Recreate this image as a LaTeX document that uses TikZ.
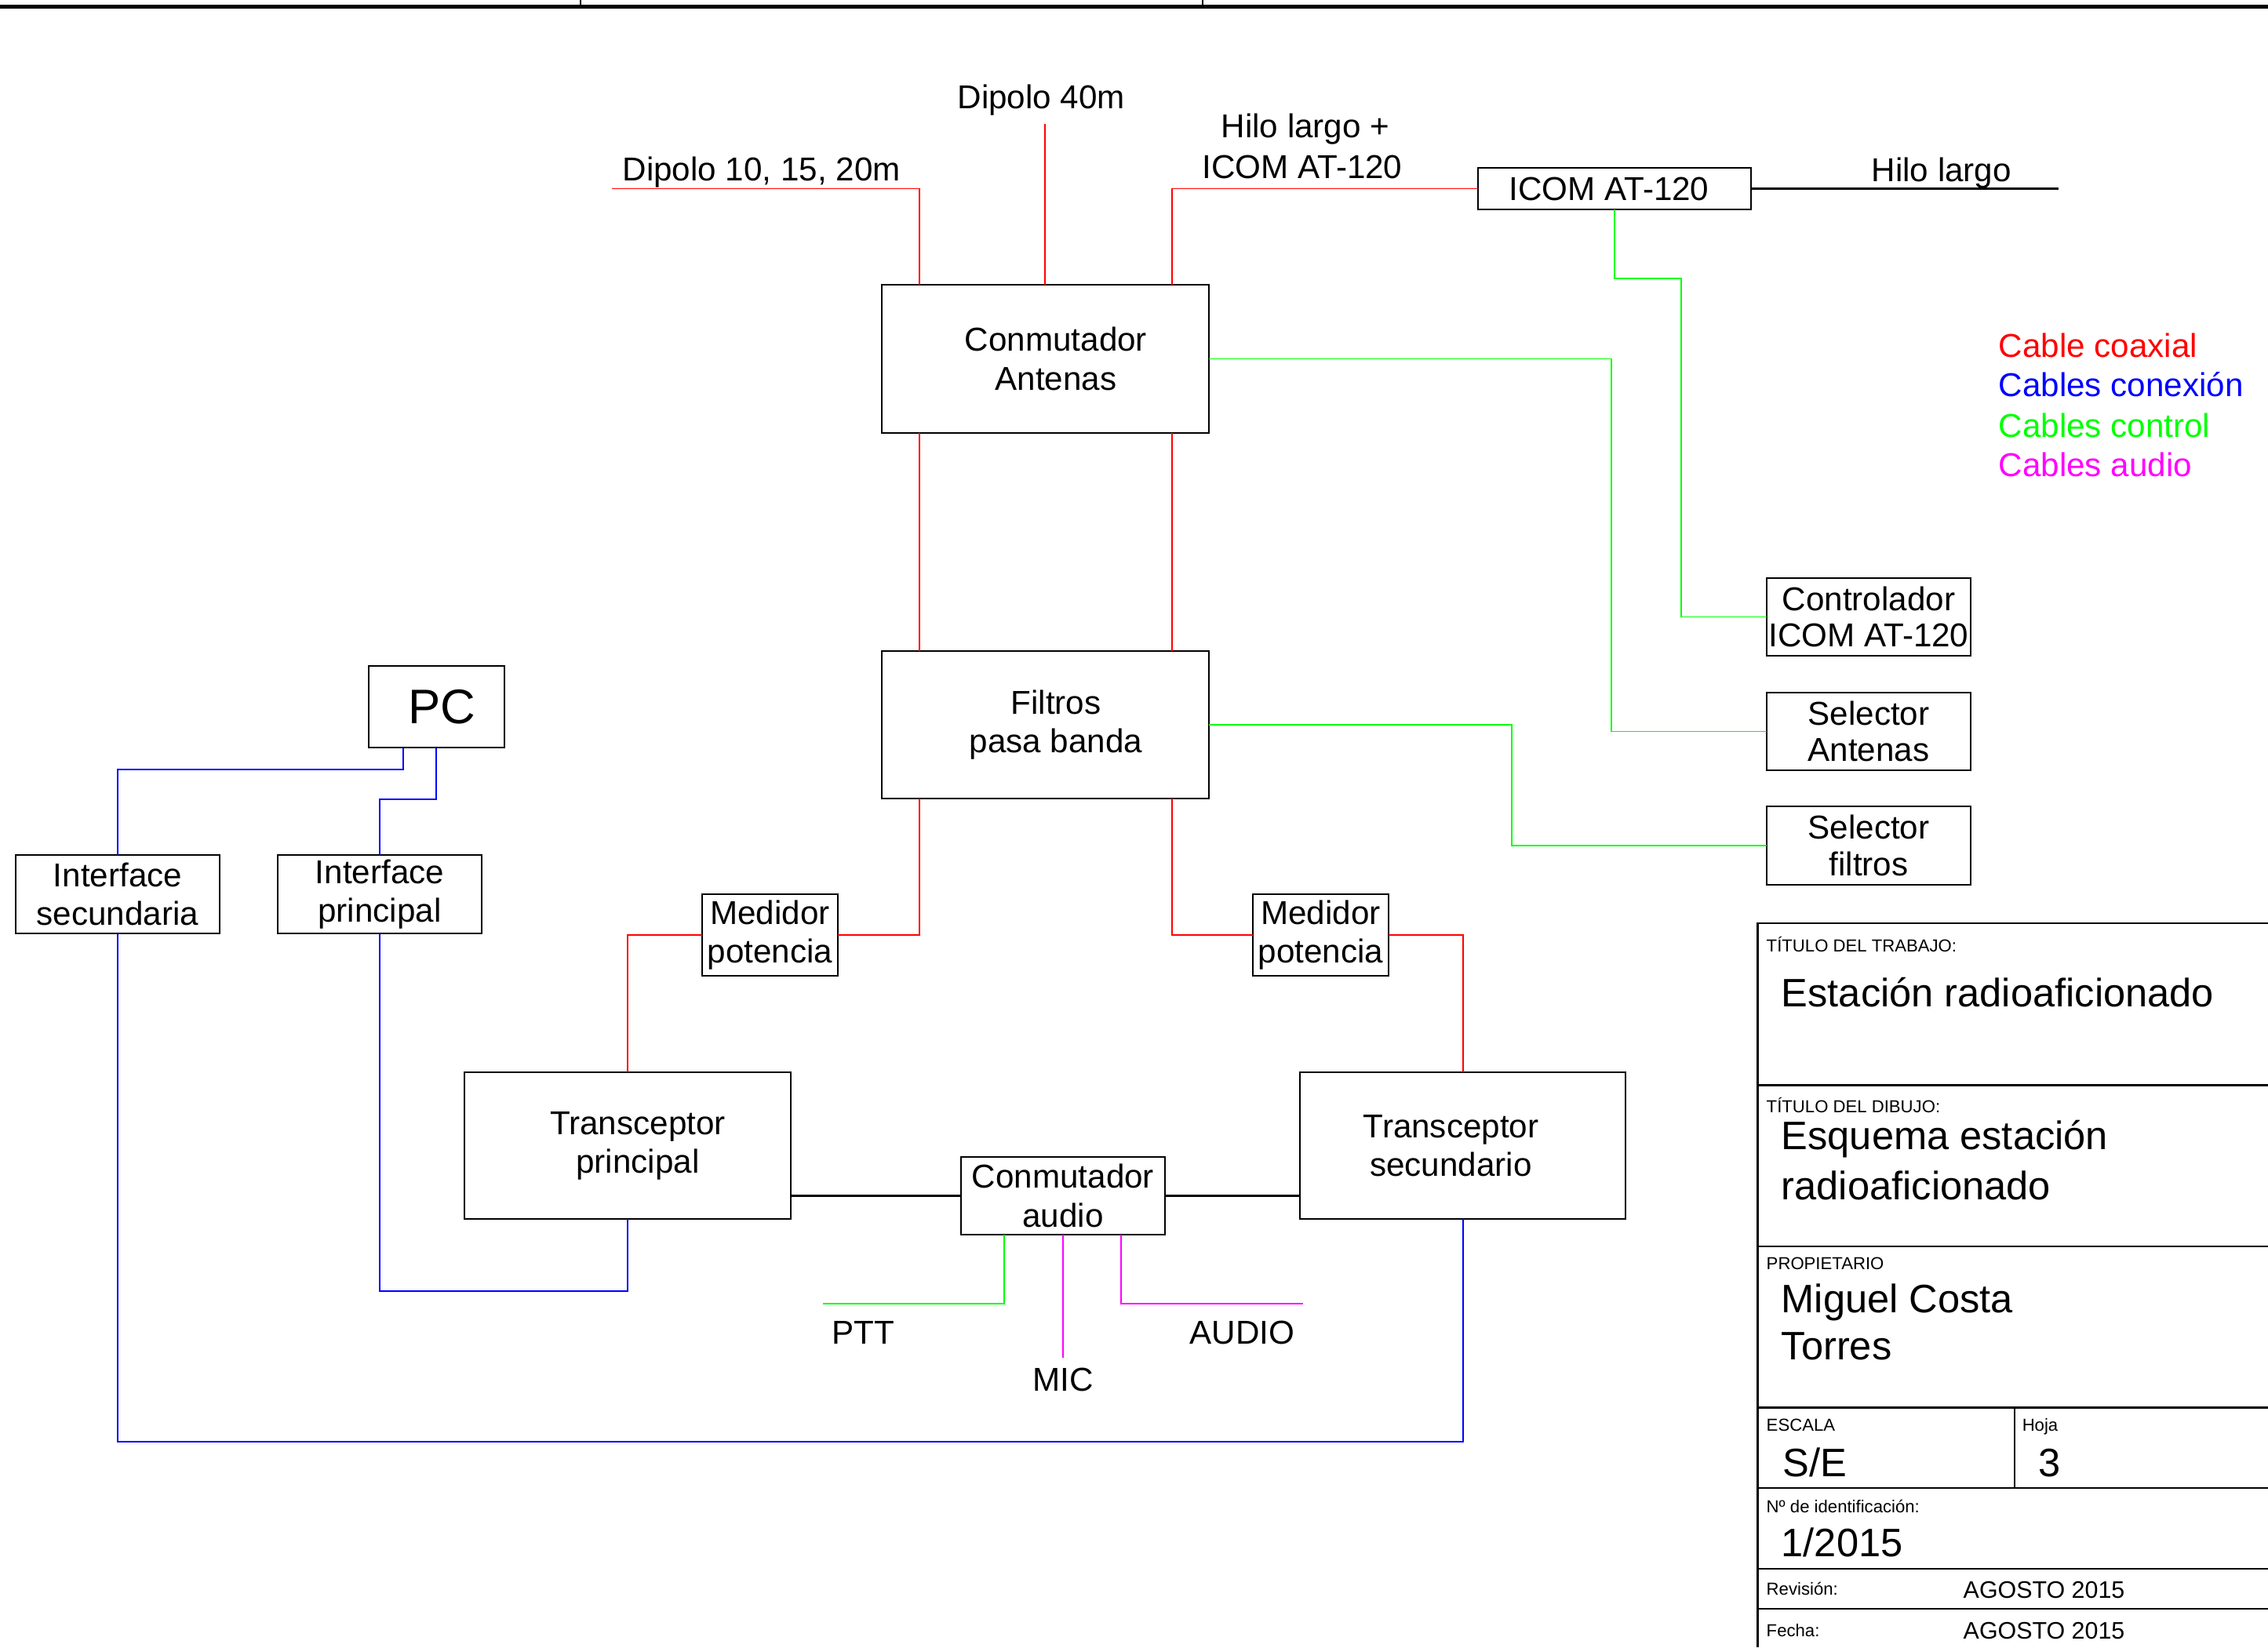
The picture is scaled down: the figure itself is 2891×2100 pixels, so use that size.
\documentclass[tikz,border=0pt]{standalone}
\usepackage{fontspec}
\setmainfont{Liberation Sans}
\usetikzlibrary{calc}
\definecolor{cred}{RGB}{255,0,0}
\definecolor{cblue}{RGB}{0,0,255}
\definecolor{cgreen}{RGB}{0,255,0}
\definecolor{cmag}{RGB}{255,0,255}
\newcommand\fmain{\fontsize{12}{14}\selectfont}
\newcommand\fsel{\fontsize{12}{13.2}\selectfont}
\newcommand\fpc{\fontsize{17.6}{20}\selectfont}
\newcommand\ftbs{\fontsize{6.3}{7}\selectfont}
\newcommand\ftbb{\fontsize{14.4}{17}\selectfont}
\newcommand\ftbm{\fontsize{8.65}{10}\selectfont}
\newcommand\sh[1]{\hspace*{#1}}
\begin{document}
\begin{tikzpicture}[x=0.1mm,y=-0.1mm,
  box/.style={draw,line width=0.6pt,inner sep=0pt,outer sep=0pt,align=center,font=\fmain},
  coax/.style={draw=cred,line width=0.55pt},
  cnx/.style={draw=cblue,line width=0.55pt},
  ctl/.style={draw=cgreen,line width=0.55pt},
  audline/.style={draw=cmag,line width=0.55pt},
  blk/.style={draw=black,line width=0.6pt},
  lbl/.style={anchor=base west,inner sep=0pt,font=\fmain},
  tbs/.style={anchor=base west,inner sep=0pt,font=\ftbs},
  tbb/.style={anchor=base west,inner sep=0pt,font=\ftbb},
  tbm/.style={anchor=base west,inner sep=0pt,font=\ftbm},
  tbline/.style={draw=black,line width=0.6pt}]
\useasboundingbox (0,0) rectangle (2891,2100);

% top border
\draw[line width=1.45pt] (0,8.5) -- (2891,8.5);
\draw[line width=0.35pt] (740,0) -- (740,6);
\draw[line width=0.35pt] (1533,0) -- (1533,6);

% boxes
\node[box,minimum width=41.7mm,minimum height=18.9mm] (ant) at (1332.5,457.5) {\sh{2.7mm}Conmutador\\\sh{2.7mm}Antenas};
\node[box,minimum width=41.7mm,minimum height=18.8mm] (fil) at (1332.5,924) {\sh{2.7mm}Filtros\\\sh{2.7mm}pasa banda};
\node[box,minimum width=34.8mm,minimum height=5.3mm] (tuner) at (2058,240.5) {ICOM AT-120\sh{1.4mm}};
\node[box,minimum width=26mm,minimum height=9.9mm,font=\fsel] (ctrl) at (2382,786.5) {Controlador\\ICOM AT-120};
\node[box,minimum width=26mm,minimum height=9.9mm,font=\fsel] (selA) at (2382,932.5) {Selector\\Antenas};
\node[box,minimum width=26mm,minimum height=10mm,font=\fsel] (selF) at (2382,1078) {Selector\\filtros};
\node[box,minimum width=17.3mm,minimum height=10.4mm,font=\fpc] (pc) at (556.5,901) {\sh{1.3mm}PC};
\node[box,minimum width=26mm,minimum height=10mm] (is) at (150,1140) {Interface\\secundaria};
\node[box,minimum width=26mm,minimum height=10mm] (ip) at (484,1140) {Interface\\principal};
\node[box,minimum width=17.3mm,minimum height=10.4mm] (med1) at (981.5,1192) {Medidor\\potencia};
\node[box,minimum width=17.3mm,minimum height=10.4mm] (med2) at (1683.5,1192) {Medidor\\potencia};
\node[box,minimum width=41.6mm,minimum height=18.7mm] (tp) at (800,1460.5) {\sh{2.6mm}Transceptor\\\sh{2.6mm}principal};
\node[box,minimum width=41.5mm,minimum height=18.7mm] (ts) at (1864.5,1460.5) {Transceptor\sh{3mm}\\secundario\sh{3mm}};
\node[box,minimum width=26mm,minimum height=9.9mm] (aud) at (1355,1524.5) {Conmutador\\audio};

% helper coordinates
\coordinate (xA) at (1172,0);
\coordinate (xC) at (1494,0);
\coordinate (d10end) at (780,240.5);
\coordinate (d40end) at (1332,158);
\coordinate (hiloend) at (2624,240.5);
\coordinate (g1) at (2143,355);
\coordinate (g2) at (2054,0);
\coordinate (g3) at (1927,0);
\coordinate (gp) at (1280,0);
\coordinate (ga) at (1429,0);
\coordinate (pttend) at (1049,1662);
\coordinate (micend) at (1355,1731);
\coordinate (audend) at (1661,1662);
\coordinate (bk1) at (514,981);
\coordinate (bk2) at (556,1019);
\coordinate (bk3) at (650,1646);
\coordinate (bk4) at (1000,1838);

% coaxial (red)
\draw[coax] (d10end) -| (ant.north -| xA);
\draw[coax] (d40end) -- (ant.north -| d40end);
\draw[coax] (tuner.west) -| (ant.north -| xC);
\draw[coax] (ant.south -| xA) -- (fil.north -| xA);
\draw[coax] (ant.south -| xC) -- (fil.north -| xC);
\draw[coax] (fil.south -| xA) |- (med1.east);
\draw[coax] (med1.west) -| (tp.north);
\draw[coax] (fil.south -| xC) |- (med2.west);
\draw[coax] (med2.east) -| (ts.north);

% black
\draw[blk] (tuner.east) -- (hiloend);
\draw[blk] (aud.west -| tp.east) -- (aud.west);
\draw[blk] (aud.east) -- (aud.east -| ts.west);

% control (green)
\draw[ctl] (tuner.south) |- (g1) |- (ctrl.west);
\draw[ctl] (ant.east) -| (g2 |- selA.west) -- (selA.west);
\draw[ctl] (fil.east) -| (g3 |- selF.west) -- (selF.west);
\draw[ctl] (aud.south -| gp) |- (pttend);

% audio (magenta)
\draw[audline] (aud.south -| micend) -- (micend);
\draw[audline] (aud.south -| ga) |- (audend);

% connection (blue)
\draw[cnx] (pc.south -| bk1) -- (bk1) -| (is.north);
\draw[cnx] (pc.south -| bk2) -- (bk2) -| (ip.north);
\draw[cnx] (ip.south) |- (bk3) -| (tp.south);
\draw[cnx] (is.south) |- (bk4) -| (ts.south);

% labels
\node[lbl] (tD10) at (793,231) {Dipolo 10, 15, 20m};
\node[lbl] (tD40) at (1220,139) {Dipolo 40m};
\node[lbl] (tHL1) at (1556,176) {Hilo largo +};
\node[lbl] (tHL2) at (1532,228) {ICOM AT-120};
\node[lbl] (tHL) at (2385,232) {Hilo largo};
\node[lbl] (tPTT) at (1060,1713) {PTT};
\node[lbl] (tMIC) at (1316,1773) {MIC};
\node[lbl] (tAUD) at (1516,1713) {AUDIO};

% legend
\node[lbl,text=cred] (lg1) at (2547,455) {Cable coaxial};
\node[lbl,text=cblue] (lg2) at (2547,505) {Cables conexión};
\node[lbl,text=cgreen] (lg3) at (2547,557) {Cables control};
\node[lbl,text=cmag] (lg4) at (2547,607) {Cables audio};

% title block
\draw[tbline] (2240.5,2100) -- (2240.5,1177) -- (2891,1177);
\foreach \yy in {1383.5,1589,1794.5,1897,2000,2051}
  \draw[tbline] (2240.5,\yy) -- (2891,\yy);
\draw[tbline] (2568,1794.5) -- (2568,1897);

\node[tbs] (tb1) at (2251,1213) {TÍTULO DEL TRABAJO:};
\node[tbb] (tb2) at (2270,1283) {Estación radioaficionado};
\node[tbs] (tb3) at (2251,1418) {TÍTULO DEL DIBUJO:};
\node[tbb] (tb4) at (2270,1465) {Esquema estación};
\node[tbb] (tb5) at (2270,1529) {radioaficionado};
\node[tbs] (tb6) at (2251,1618) {PROPIETARIO};
\node[tbb] (tb7) at (2270,1673) {Miguel Costa};
\node[tbb] (tb8) at (2270,1733) {Torres};
\node[tbs] (tb9) at (2251,1824) {ESCALA};
\node[tbs] (tb10) at (2577,1824) {Hoja};
\node[tbb] (tb11) at (2272,1882) {S/E};
\node[tbb] (tb12) at (2598,1882) {3};
\node[tbs] (tb13) at (2251,1928) {Nº de identificación:};
\node[tbb] (tb14) at (2270,1984) {1/2015};
\node[tbs] (tb15) at (2251,2033) {Revisión:};
\node[tbm] (tb16) at (2502,2037) {AGOSTO 2015};
\node[tbs] (tb17) at (2251,2086) {Fecha:};
\node[tbm] (tb18) at (2502,2089) {AGOSTO 2015};
\end{tikzpicture}
\end{document}
